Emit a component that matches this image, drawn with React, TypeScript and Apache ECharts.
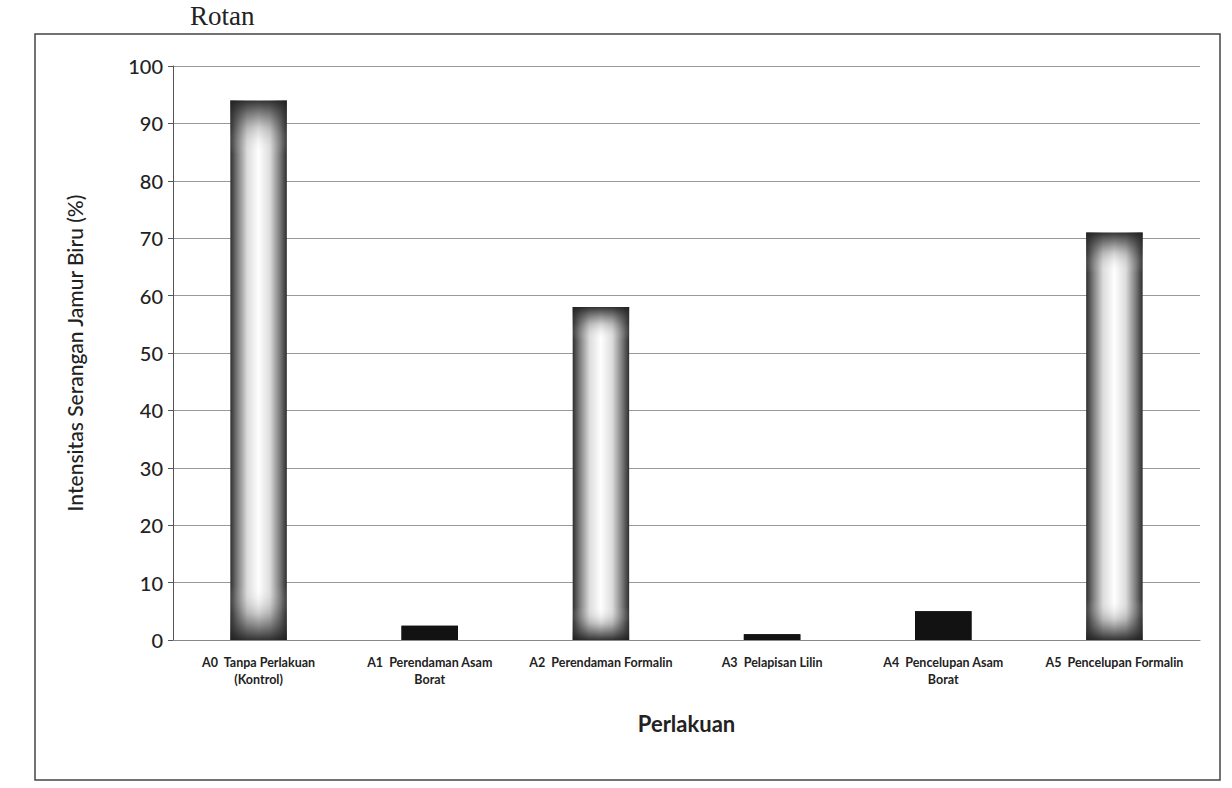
import React, { useEffect, useRef } from "react";
import * as echarts from "echarts";

const categories = [
  "A0  Tanpa Perlakuan\n(Kontrol)",
  "A1  Perendaman Asam\nBorat",
  "A2  Perendaman Formalin",
  "A3  Pelapisan Lilin",
  "A4  Pencelupan Asam\nBorat",
  "A5  Pencelupan Formalin",
];
const values = [94, 2.5, 58, 1, 5, 71];
const yTicks = [0, 10, 20, 30, 40, 50, 60, 70, 80, 90, 100];

const tallStyle = {
  color: {
    type: "linear",
    x: 0,
    y: 0,
    x2: 1,
    y2: 0,
    colorStops: [
      { offset: 0, color: "#2e2e2e" },
      { offset: 0.12, color: "#7a7a7a" },
      { offset: 0.3, color: "#dcdcdc" },
      { offset: 0.5, color: "#ffffff" },
      { offset: 0.7, color: "#dcdcdc" },
      { offset: 0.88, color: "#7a7a7a" },
      { offset: 1, color: "#2e2e2e" },
    ],
  },
};
const capStyle = {
  color: {
    type: "linear",
    x: 0,
    y: 0,
    x2: 0,
    y2: 1,
    colorStops: [
      { offset: 0, color: "rgba(30,30,30,0.9)" },
      { offset: 0.05, color: "rgba(60,60,60,0.25)" },
      { offset: 0.1, color: "rgba(255,255,255,0)" },
      { offset: 0.9, color: "rgba(255,255,255,0)" },
      { offset: 0.95, color: "rgba(60,60,60,0.25)" },
      { offset: 1, color: "rgba(30,30,30,0.9)" },
    ],
  },
};
const shortStyle = { color: "#121212" };

export default function App() {
  const ref = useRef<HTMLDivElement>(null);
  useEffect(() => {
    const chart = echarts.init(ref.current!, null, { renderer: "svg" });
    chart.setOption({
      animation: false,
      backgroundColor: "#fff",
      textStyle: { fontFamily: "Lato" },
      graphic: [
        {
          type: "text",
          left: 190,
          top: 2,
          style: { text: "Rotan", font: "27px 'Liberation Serif'", fill: "#222" },
        },
        {
          type: "rect",
          shape: { x: 35, y: 34, width: 1185, height: 746 },
          style: { fill: "none", stroke: "#444", lineWidth: 1.5 },
          z: -1,
        },
      ],
      grid: { left: 173, right: 32, top: 66, bottom: 148 },
      xAxis: {
        type: "category",
        data: categories,
        axisTick: { show: false },
        axisLine: { lineStyle: { color: "#888" } },
        axisLabel: {
          interval: 0,
          fontSize: 12.5,
          fontWeight: "bold",
          color: "#222",
          lineHeight: 17,
          margin: 14,
        },
        name: "Perlakuan",
        nameLocation: "middle",
        nameGap: 72,
        nameTextStyle: { fontSize: 22, fontWeight: "bold", color: "#222" },
      },
      yAxis: {
        type: "value",
        min: yTicks[0],
        max: yTicks[yTicks.length - 1],
        interval: 10,
        axisLine: { show: true, lineStyle: { color: "#555" } },
        axisTick: { show: true, length: 5, lineStyle: { color: "#555" } },
        splitLine: { lineStyle: { color: "#999" } },
        axisLabel: { fontSize: 20, color: "#222", margin: 10, fontWeight: 500 },
        name: "Intensitas Serangan Jamur Biru (%)",
        nameLocation: "middle",
        nameGap: 88,
        nameTextStyle: { fontSize: 21, fontWeight: 500, color: "#222" },
      },
      series: [
        {
          type: "bar",
          barWidth: "33%",
          data: values.map((v) => ({
            value: v,
            itemStyle: v < 10 ? shortStyle : tallStyle,
          })),
        },
        {
          type: "bar",
          barWidth: "33%",
          barGap: "-100%",
          silent: true,
          data: values.map((v) => ({
            value: v,
            itemStyle: v < 10 ? shortStyle : capStyle,
          })),
        },
      ],
    });
    return () => chart.dispose();
  }, []);
  return <div ref={ref} style={{ width: 1232, height: 788, position: "absolute", left: 0, top: 0 }} />;
}
